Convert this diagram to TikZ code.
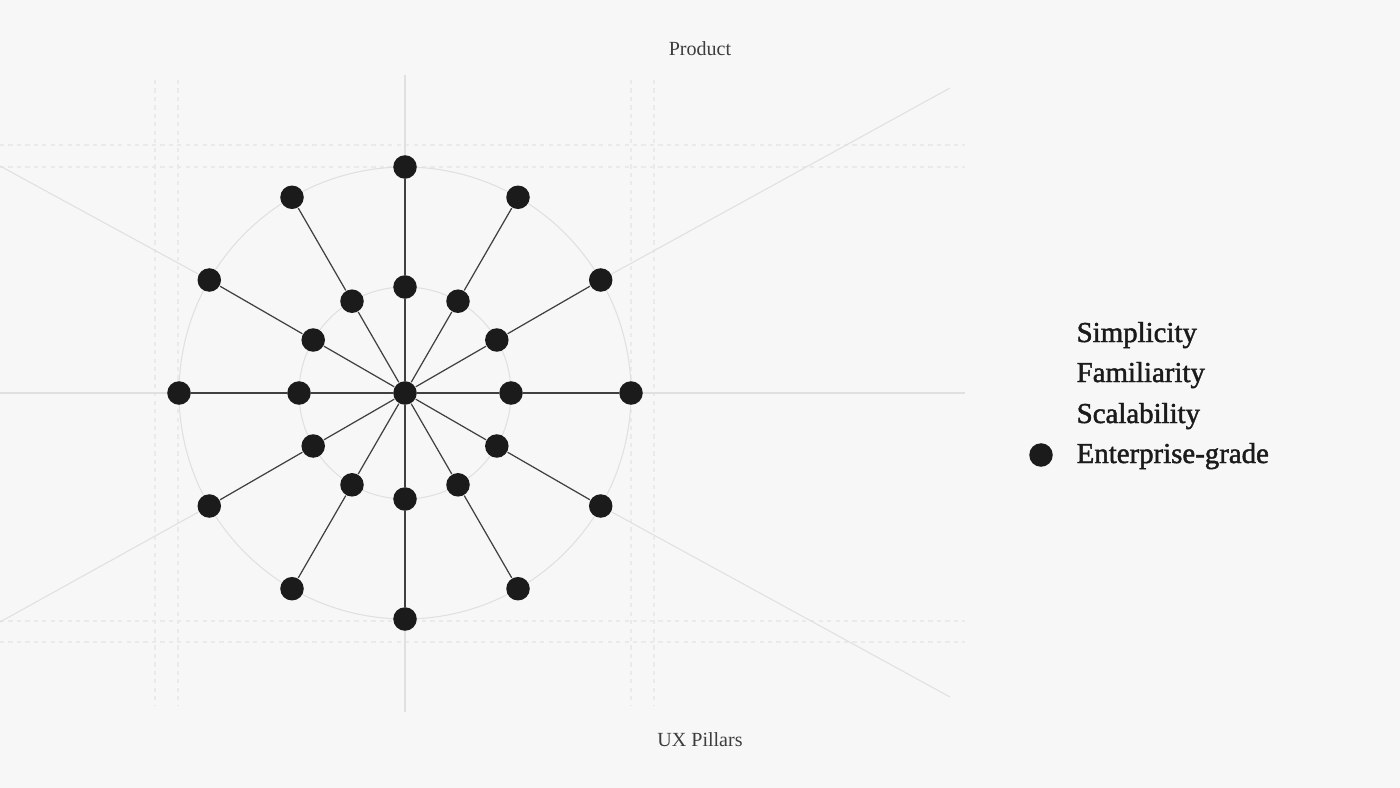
\documentclass[tikz,border=0pt]{standalone}
\usepackage{fontspec}
\setmainfont{Liberation Serif}
\newfontfamily\legendfont[FakeBold=1.6]{Liberation Serif}
\definecolor{paper}{HTML}{F7F7F7}
\definecolor{ink}{HTML}{1B1B1B}
\definecolor{spoke}{HTML}{404040}
\definecolor{faint}{HTML}{E0E0E0}
\definecolor{grid}{HTML}{EAEAEA}

\begin{document}
\begin{tikzpicture}[x = 0.01cm, y = -0.01cm,
  dot/.style = {circle, fill=ink, inner sep=0pt, minimum size=0.235cm},
  guide/.style = {faint, line width=0.3pt},
  gridline/.style = {grid, line width=0.3pt, dash pattern=on 1.2pt off 1.2pt},
  spokeline/.style = {spoke, line width=0.35pt},
  pillar/.style = {anchor=base west, inner sep=0pt, text=ink, font=\legendfont\fontsize{8.2}{10}\selectfont}]

\useasboundingbox (0,0) rectangle (1400,788);
\fill[paper] (-5,-5) rectangle (1405,793);

\draw[gridline] (155,80) -- (155,705);
\draw[gridline] (178,80) -- (178,705);
\draw[gridline] (631,80) -- (631,705);
\draw[gridline] (654,80) -- (654,705);
\draw[gridline] (0,145) -- (965,145);
\draw[gridline] (0,167) -- (965,167);
\draw[gridline] (0,621) -- (965,621);
\draw[gridline] (0,642) -- (965,642);

\draw[guide] (405,75) -- (405,712);
\draw[guide] (0,393) -- (965,393);

\coordinate (ne) at (950,88);
\coordinate (nw) at (0,166);
\coordinate (se) at (950,697);
\coordinate (sw) at (0,622);

\begin{scope}[shift = {(405,393)}]

\draw[guide] (0,0) circle [radius = 226];
\draw[guide] (0,0) circle [radius = 106];

\node[dot] (c) at (0,0) {};

\node[dot] (i1) at (30:106) {};
\node[dot] (i2) at (60:106) {};
\node[dot] (i3) at (90:106) {};
\node[dot] (i4) at (120:106) {};
\node[dot] (i5) at (150:106) {};
\node[dot] (i6) at (180:106) {};
\node[dot] (i7) at (210:106) {};
\node[dot] (i8) at (240:106) {};
\node[dot] (i9) at (270:106) {};
\node[dot] (i10) at (300:106) {};
\node[dot] (i11) at (330:106) {};
\node[dot] (i12) at (360:106) {};

\node[dot] (o1) at (30:226) {};
\node[dot] (o2) at (60:226) {};
\node[dot] (o3) at (90:226) {};
\node[dot] (o4) at (120:226) {};
\node[dot] (o5) at (150:226) {};
\node[dot] (o6) at (180:226) {};
\node[dot] (o7) at (210:226) {};
\node[dot] (o8) at (240:226) {};
\node[dot] (o9) at (270:226) {};
\node[dot] (o10) at (300:226) {};
\node[dot] (o11) at (330:226) {};
\node[dot] (o12) at (360:226) {};

\end{scope}

\draw[guide] (o1) -- (se);
\draw[guide] (o5) -- (sw);
\draw[guide] (o7) -- (nw);
\draw[guide] (o11) -- (ne);

\draw[spokeline] (c) -- (i1) -- (o1);
\draw[spokeline] (c) -- (i2) -- (o2);
\draw[spokeline] (c) -- (i3) -- (o3);
\draw[spokeline] (c) -- (i4) -- (o4);
\draw[spokeline] (c) -- (i5) -- (o5);
\draw[spokeline] (c) -- (i6) -- (o6);
\draw[spokeline] (c) -- (i7) -- (o7);
\draw[spokeline] (c) -- (i8) -- (o8);
\draw[spokeline] (c) -- (i9) -- (o9);
\draw[spokeline] (c) -- (i10) -- (o10);
\draw[spokeline] (c) -- (i11) -- (o11);
\draw[spokeline] (c) -- (i12) -- (o12);

\node[anchor=base, text=ink!85, font=\fontsize{5.7}{7}\selectfont] (product) at (700,56) {Product};
\node[anchor=base, text=ink!85, font=\fontsize{5.7}{7}\selectfont] (pillars) at (700,746) {UX Pillars};

\node[pillar] (simplicity) at (1076,342) {Simplicity};
\node[pillar] (familiarity) at (1076,382) {Familiarity};
\node[pillar] (scalability) at (1076,423) {Scalability};
\node[pillar] (enterprise) at (1076,463) {Enterprise-grade};
\node[dot] (key) at (1041,455) {};

\end{tikzpicture}
\end{document}
